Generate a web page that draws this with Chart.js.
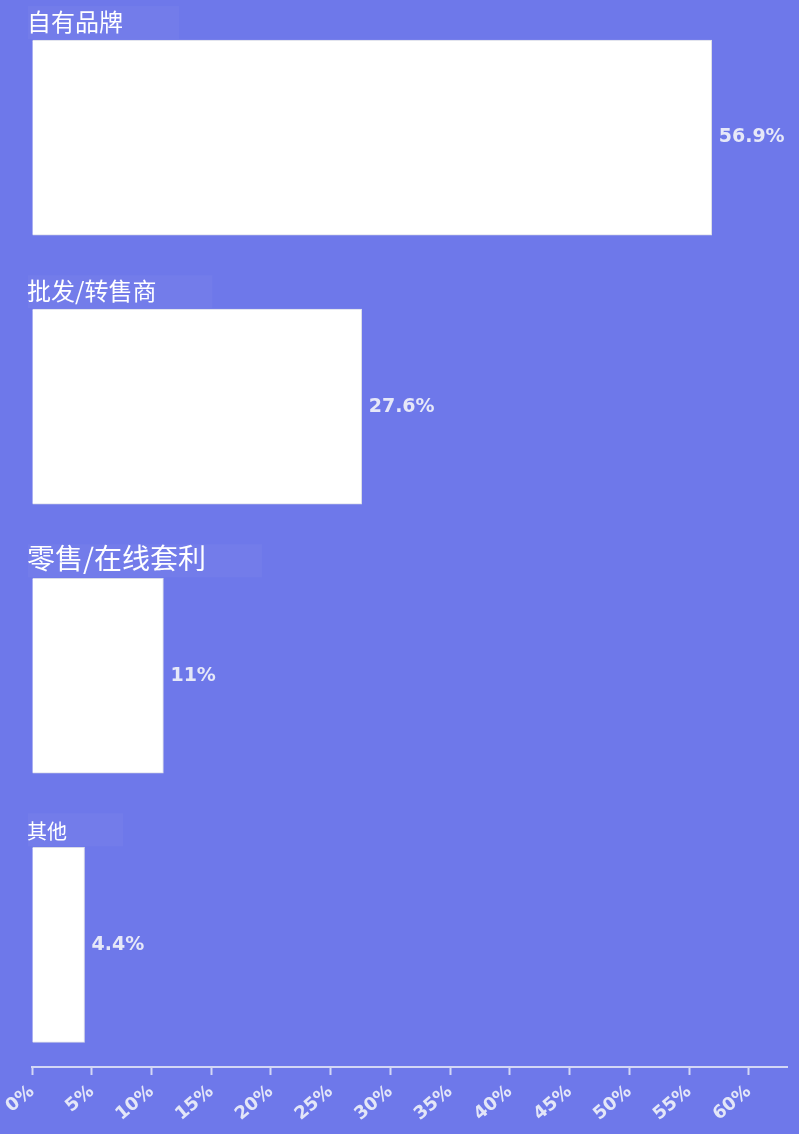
<!DOCTYPE html>
<html>
<head>
<meta charset="utf-8">
<script src="https://cdn.jsdelivr.net/npm/chart.js@4"></script>
<style>
  html, body { margin: 0; padding: 0; background: #6e78ea; }
  #wrap { width: 799px; height: 1134px; }
</style>
</head>
<body>
<div id="wrap"><canvas id="bar-chart"></canvas></div>
<script>
// data
const categories = ['自有品牌', '批发/转售商', '零售/在线套利', '其他'];
const shares = [56.9, 27.6, 11, 4.4];
const valueLabels = ['56.9%', '27.6%', '11%', '4.4%'];
const tickStep = 5;
const axisMax = 63.2;

// the category captions are not all the same size in the picture
const captionSizes = [24, 24, 28, 20];

const points = shares.map((v, i) => ({ x: v, y: i }));

const labelPlugin = {
    id: 'barLabels',
    afterDatasetsDraw(chart) {
        const ctx = chart.ctx;
        const bars = chart.getDatasetMeta(0).data;
        ctx.save();
        bars.forEach((bar, i) => {
            const top = bar.y - bar.height / 2;
            ctx.font = captionSizes[i] + 'px "Noto Sans CJK SC", sans-serif';
            const w = ctx.measureText(categories[i]).width;

            // faint smudge behind the caption
            ctx.fillStyle = 'rgba(255,255,255,0.035)';
            ctx.fillRect(28, top - 34, w + 55, 33);

            ctx.fillStyle = '#ffffff';
            ctx.textAlign = 'left';
            ctx.textBaseline = 'bottom';
            ctx.fillText(categories[i], 27, top - 6);

            ctx.fillStyle = '#e6e8f8';
            ctx.font = 'bold 19px "DejaVu Sans", sans-serif';
            ctx.textBaseline = 'middle';
            ctx.fillText(valueLabels[i], bar.x + 7, bar.y);
        });
        ctx.restore();
    }
};

const ctx = document.getElementById('bar-chart').getContext('2d');
const myChart = new Chart(ctx, {
    type: 'bar',
    data: {
        datasets: [{
            data: points,
            backgroundColor: '#ffffff',
            borderColor: '#d9dbe8',
            borderWidth: 1,
            barThickness: 195
        }]
    },
    plugins: [labelPlugin],
    options: {
        indexAxis: 'y',
        responsive: true,
        maintainAspectRatio: false,
        animation: false,
        layout: { padding: { top: 3, left: 32, right: 12, bottom: 0 } },
        plugins: {
            legend: { display: false },
            tooltip: { enabled: false }
        },
        scales: {
            y: {
                type: 'linear',
                reverse: true,
                offset: false,
                min: -0.5,
                max: 3.454,
                display: false
            },
            x: {
                type: 'linear',
                min: 0,
                max: axisMax,
                afterBuildTicks: scale => {
                    scale.ticks = scale.ticks.filter(t => t.value % tickStep === 0);
                },
                afterFit: scale => {
                    scale.height = 67;
                    scale.paddingLeft = 0;
                    scale.paddingRight = 0;
                },
                border: { display: true, color: '#d3d7f5', width: 2 },
                grid: {
                    display: true,
                    drawOnChartArea: false,
                    drawTicks: true,
                    tickLength: 8,
                    tickWidth: 2,
                    color: '#d3d7f5'
                },
                ticks: {
                    stepSize: tickStep,
                    minRotation: 40,
                    maxRotation: 40,
                    autoSkip: false,
                    padding: 6,
                    color: '#e3e6f8',
                    font: { size: 18, weight: 'bold', family: '"DejaVu Sans", sans-serif' },
                    callback: v => v + '%'
                }
            }
        }
    }
});
</script>
</body>
</html>
